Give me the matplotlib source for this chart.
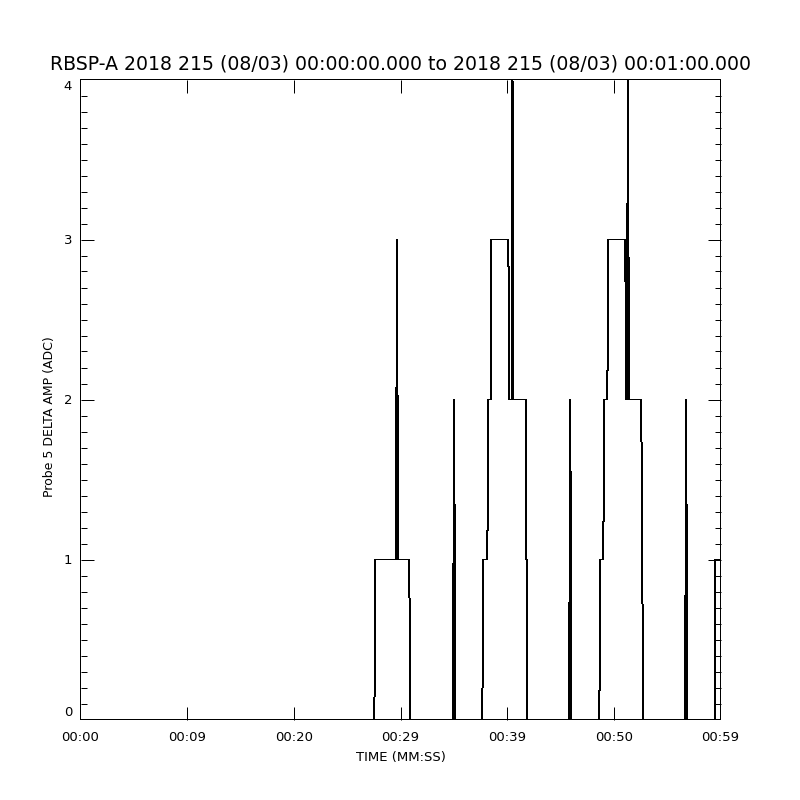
import matplotlib
matplotlib.use("Agg")
import matplotlib.pyplot as plt
from matplotlib.ticker import MultipleLocator, FixedLocator, FixedFormatter

title = "RBSP-A 2018 215 (08/03) 00:00:00.000 to 2018 215 (08/03) 00:01:00.000"
xlabel = "TIME (MM:SS)"
ylabel = "Probe 5 DELTA AMP (ADC)"

# time (s from start) and amplitude vertices of the trace
times = [0.00, 27.55, 27.64, 29.55, 29.62, 29.69, 29.72, 29.75, 30.82, 30.92,
         34.92, 34.97, 35.03, 35.08, 35.14,
         37.67, 37.76, 38.14, 38.23, 38.45, 38.49, 40.11, 40.20, 40.42, 40.46,
         40.50, 40.54, 40.58, 41.72, 41.76, 41.86, 41.90,
         45.80, 45.86, 45.92, 45.96, 46.02,
         48.64, 48.73, 49.01, 49.10, 49.39, 49.48, 51.07, 51.16, 51.22, 51.27,
         51.32, 51.37, 51.42, 52.57, 52.66, 52.76,
         56.68, 56.73, 56.78, 56.83, 56.88,
         59.44, 59.50, 60.00]
values = [0, 0, 1, 1, 2, 3, 2, 1, 1, 0,
          0, 1, 2, 1, 0,
          0, 1, 1, 2, 2, 3, 3, 2, 2, 3,
          4, 3, 2, 2, 1, 1, 0,
          0, 1, 2, 1, 0,
          0, 1, 1, 2, 2, 3, 3, 2, 2, 3,
          4, 3, 2, 2, 1, 0,
          0, 1, 2, 1, 0,
          0, 1, 1]

xtick_pos = [0, 10, 20, 30, 40, 50, 60]
xtick_labels = ["00:00", "00:09", "00:20", "00:29", "00:39", "00:50", "00:59"]
ytick_pos = [0, 1, 2, 3, 4]
ytick_labels = ["0", "1", "2", "3", "4"]

plt.rcParams['font.family'] = ['DejaVu Sans']

fig = plt.figure(figsize=(8, 8), dpi=100)
ax = fig.add_axes([80.5 / 800, 80.5 / 800, 0.8, 0.8])

ax.plot(times, values, color='black', linewidth=0.72, antialiased=False,
        solid_joinstyle='miter')
ax.set_xlim(0, 60)
ax.set_ylim(0, 4)

ax.xaxis.set_major_locator(FixedLocator(xtick_pos))
ax.xaxis.set_major_formatter(FixedFormatter(xtick_labels))
ax.yaxis.set_major_locator(FixedLocator(ytick_pos))
ax.yaxis.set_major_formatter(FixedFormatter(ytick_labels))
ax.yaxis.set_minor_locator(MultipleLocator(0.1))

ax.tick_params(which='both', direction='in', top=True, right=True,
               width=0.72, color='black', labelsize=9.5)
ax.tick_params(which='major', length=9.2)
ax.tick_params(which='minor', length=4.6)
ax.tick_params(axis='x', which='major', pad=8)
ax.tick_params(axis='y', which='major', pad=6)

for s in ax.spines.values():
    s.set_linewidth(0.72)
    s.set_antialiased(False)
    s.set_snap(False)
    s.set_capstyle('butt')

# end ticks coincide with the frame; hide them to avoid corner artefacts
for axis in (ax.xaxis, ax.yaxis):
    ticks = axis.get_major_ticks()
    for t in (ticks[0], ticks[-1]):
        t.tick1line.set_visible(False)
        t.tick2line.set_visible(False)

ylabs = ax.get_yticklabels()
ylabs[0].set_va('bottom')
ylabs[-1].set_va('top')

ax.set_xlabel(xlabel, fontsize=9.5, labelpad=5)
ax.set_ylabel(ylabel, fontsize=9)
ax.yaxis.set_label_coords(-0.039, 0.474)

fig.text(0.5, 1 - 64 / 800, title, ha='center', va='center', fontsize=13.6)

fig.savefig("out.png", dpi=100, facecolor='white')
